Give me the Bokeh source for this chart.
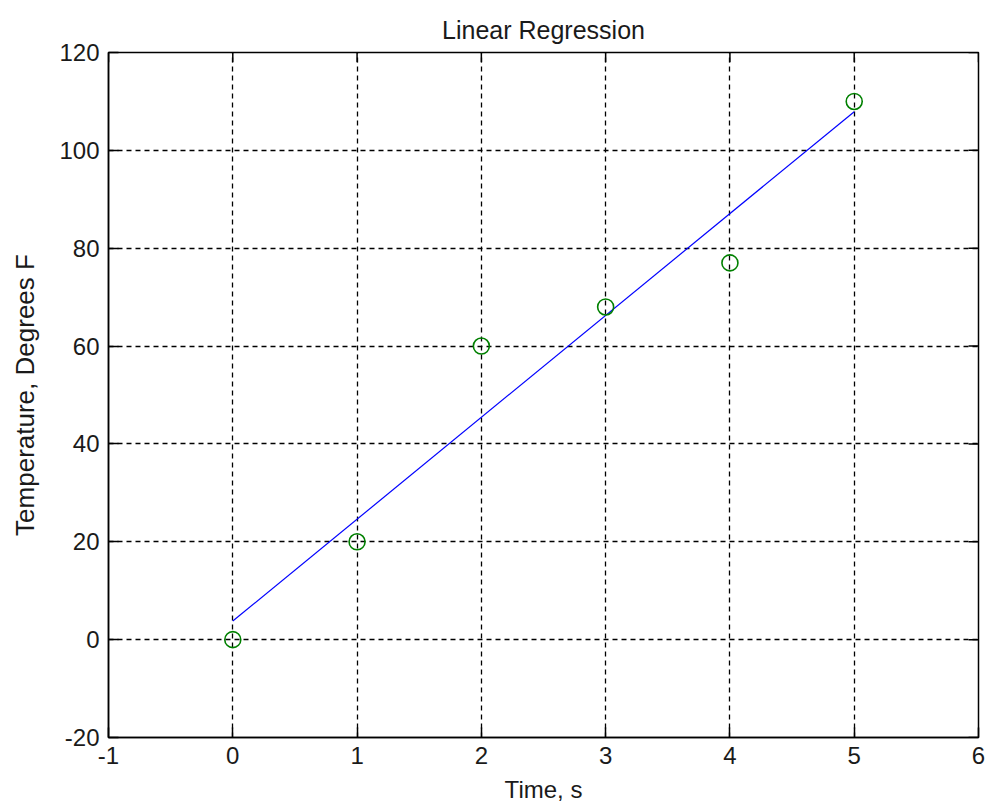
from bokeh.plotting import figure
from bokeh.models import FixedTicker, Range1d
from bokeh.embed import file_html
from bokeh.resources import INLINE

# Measured samples
time_s = [0, 1, 2, 3, 4, 5]
temp_f = [0, 20, 60, 68, 77, 110]

# Least-squares line evaluated at the ends of the time span
fit_time = [0, 5]
fit_temp = [3.8, 107.9]

x_ticks = [-1, 0, 1, 2, 3, 4, 5, 6]
y_ticks = [-20, 0, 20, 40, 60, 80, 100, 120]

X_MIN, X_MAX = -1, 6
Y_MIN, Y_MAX = -20, 120

FONT = "Liberation Sans"
TXT = "#1a1a1a"

p = figure(
    frame_width=870, frame_height=685,
    min_border_left=108, min_border_right=9,
    min_border_top=52, min_border_bottom=70,
    x_range=Range1d(X_MIN, X_MAX), y_range=Range1d(Y_MIN, Y_MAX),
    output_backend="svg", toolbar_location=None,
    title="Linear Regression",
)

p.title.align = "center"
p.title.vertical_align = "top"
p.title.text_font = FONT
p.title.text_font_size = "25px"
p.title.text_font_style = "normal"
p.title.text_color = TXT
p.title.standoff = 14

p.outline_line_color = "black"
p.outline_line_width = 1.5
p.background_fill_color = "white"
p.border_fill_color = "white"

for g in (p.xgrid[0], p.ygrid[0]):
    g.grid_line_color = "black"
    g.grid_line_dash = "5 4"
    g.grid_line_width = 1.3
p.xgrid[0].ticker = FixedTicker(ticks=x_ticks)
p.ygrid[0].ticker = FixedTicker(ticks=y_ticks)


def style_axis(ax, ticks):
    ax.ticker = FixedTicker(ticks=ticks)
    ax.minor_tick_line_color = None
    ax.major_tick_in = 10
    ax.major_tick_out = 0
    ax.major_tick_line_color = "black"
    ax.major_tick_line_width = 1.5
    ax.axis_line_color = "black"
    ax.axis_line_width = 1.5
    ax.major_label_text_font = FONT
    ax.major_label_text_color = TXT
    ax.major_label_text_font_size = "24px"
    ax.major_label_standoff = 9
    ax.axis_label_text_font = FONT
    ax.axis_label_text_color = TXT
    ax.axis_label_text_font_style = "normal"
    # plain hyphen for negative labels
    ax.major_label_overrides = {t: str(t) for t in ticks if t < 0}


xa = p.xaxis[0]
style_axis(xa, x_ticks)
xa.axis_label = "Time, s"
xa.axis_label_text_font_size = "24px"
xa.axis_label_standoff = 9

ya = p.yaxis[0]
style_axis(ya, y_ticks)
ya.axis_label = "Temperature, Degrees F"
ya.axis_label_text_font_size = "26px"
ya.axis_label_standoff = 16

# Inward tick marks on the top and right edges of the box
x_tick_len = 2.0     # data units on the y scale
y_tick_len = 0.08    # data units on the x scale
p.segment(x0=x_ticks, y0=[Y_MAX] * len(x_ticks),
          x1=x_ticks, y1=[Y_MAX - x_tick_len] * len(x_ticks),
          line_color="black", line_width=1.5)
p.segment(x0=[X_MAX] * len(y_ticks), y0=y_ticks,
          x1=[X_MAX - y_tick_len] * len(y_ticks), y1=y_ticks,
          line_color="black", line_width=1.5)

# Regression line and data markers
p.line(fit_time, fit_temp, line_color="blue", line_width=1.2)
p.scatter(time_s, temp_f, marker="circle", size=16, fill_color=None,
          line_color="#008000", line_width=1.6)

open("out.html", "w").write(file_html(p, INLINE))
